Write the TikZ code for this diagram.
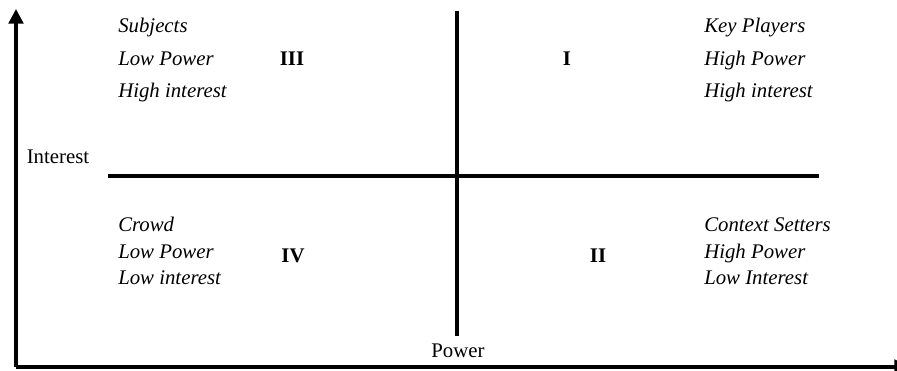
\documentclass[tikz,border=0pt]{standalone}
\usepackage{fontspec}
\setmainfont{Liberation Serif}
\usetikzlibrary{arrows.meta}
\tikzset{
  axis/.style={line width=2.4pt},
  divider/.style={line width=2.4pt},
  tag/.style={font=\fontsize{15.6}{18}\selectfont\itshape, anchor=base west, inner sep=0pt},
  quad/.style={font=\fontsize{15.6}{18}\selectfont\bfseries, anchor=base, inner sep=0pt},
  axislabel/.style={font=\fontsize{15.6}{18}\selectfont, inner sep=0pt}
}
\begin{document}
\begin{tikzpicture}[x=0.75pt,y=-0.75pt]
\useasboundingbox (0,0) rectangle (897,371);
\coordinate (origin) at (16,367);
\coordinate (ytop) at (16,9);
\coordinate (xend) at (909,367);
\coordinate (vtop) at (457,11);
\coordinate (vbot) at (457,336);
\coordinate (hleft) at (108,176);
\coordinate (hright) at (819,176);
\draw[axis,-{Triangle[width=11pt,length=11pt]}] (origin) -- (ytop);
\draw[axis,-{Triangle[width=11pt,length=11pt]}] (origin) -- (xend);
\draw[divider] (vtop) -- (vbot);
\draw[divider] (hleft) -- (hright);
\node[axislabel] (interest) at (58,157) {Interest};
\node[axislabel] (power) at (458,351) {Power};
% quadrant III
\node[tag] (subjects) at (118,32) {Subjects};
\node[tag] (lowpow1) at (118,65) {Low Power};
\node[tag] (highint1) at (118,97) {High interest};
\node[quad] (qiii) at (292,65) {III};
% quadrant I
\node[tag] (keyplayers) at (704,32) {Key Players};
\node[tag] (highpow1) at (704,65) {High Power};
\node[tag] (highint2) at (704,97) {High interest};
\node[quad] (qi) at (567,65) {I};
% quadrant IV
\node[tag] (crowd) at (118,231) {Crowd};
\node[tag] (lowpow2) at (118,258) {Low Power};
\node[tag] (lowint1) at (118,284) {Low interest};
\node[quad] (qiv) at (293,262) {IV};
% quadrant II
\node[tag] (context) at (704,231) {Context Setters};
\node[tag] (highpow2) at (704,258) {High Power};
\node[tag] (lowint2) at (704,284) {Low Interest};
\node[quad] (qii) at (598,262) {II};
\end{tikzpicture}
\end{document}
